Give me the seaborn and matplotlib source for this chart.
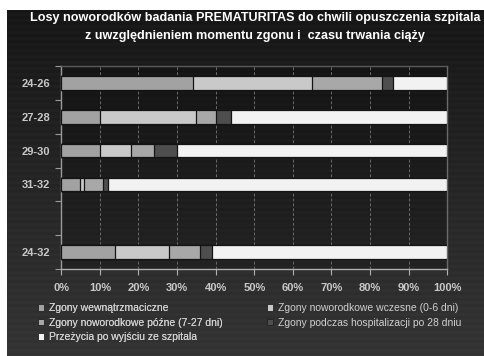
import numpy as np
import pandas as pd
import matplotlib
matplotlib.use("Agg")
import matplotlib.pyplot as plt
import seaborn as sns
from matplotlib.patches import Patch

sns.set_theme(style="dark")
plt.rcParams['font.family'] = ['Liberation Sans', 'DejaVu Sans']

categories = ["24-26", "27-28", "29-30", "31-32", "", "24-32"]
series_names = [
    "Zgony wewnątrzmaciczne",
    "Zgony noworodkowe wczesne (0-6 dni)",
    "Zgony noworodkowe późne (7-27 dni)",
    "Zgony podczas hospitalizacji po 28 dniu",
    "Przeżycia po wyjściu ze szpitala",
]
s1 = [34, 10, 10, 4.9, np.nan, 14]
s2 = [31, 25, 8, 0.9, np.nan, 14]
s3 = [18, 5, 6, 5.0, np.nan, 8]
s4 = [3, 4, 6, 1.2, np.nan, 3]
s5 = [14, 56, 70, 88, np.nan, 61]
colors = ["#a2a2a2", "#c9c9c9", "#a8a8a8", "#4e4e4e", "#f2f2f2"]
xticks = [0, 10, 20, 30, 40, 50, 60, 70, 80, 90, 100]
xticklabels = [f"{v}%" for v in xticks]

title = "Losy noworodków badania PREMATURITAS do chwili opuszczenia szpitala\nz uwzględnieniem momentu zgonu i  czasu trwania ciąży"

W, H = 485, 356
fig = plt.figure(figsize=(W / 100, H / 100), dpi=100)
fig.patch.set_facecolor("white")

# dark gradient background with faint stripes
bg = fig.add_axes([7 / W, 0, (W - 7) / W, (H - 10) / H])
rows = H - 10
grad = np.linspace(0.085, 0.2, rows)
stripes = np.where((np.arange(rows) // 3) % 2 == 0, 0.0, 0.012)
vals = (grad + stripes)[:, None] * np.ones((rows, 10))
bg.imshow(np.dstack([vals] * 3), aspect="auto", extent=[0, 1, 0, 1], origin="upper")
bg.set_axis_off()

ax = fig.add_axes([61.3 / W, 1 - 269 / H, (447.3 - 61.3) / W, (269 - 66) / H])
ax.set_facecolor((0, 0, 0, 0.22))

data = np.array([s1, s2, s3, s4, s5], dtype=float)
cum = np.cumsum(data, axis=0)
for i in range(4, -1, -1):
    df = pd.DataFrame({"cat": categories, "val": cum[i]})
    sns.barplot(data=df, x="val", y="cat", order=categories, orient="h",
                color=colors[i], saturation=1, width=0.4,
                edgecolor="#141414", linewidth=0.9, ax=ax, zorder=3)

ax.set_xlim(0, 100)
ax.set_ylim(5.5, -0.5)
ax.set_xlabel("")
ax.set_ylabel("")
ax.set_xticks(xticks)
ax.set_xticklabels(xticklabels)
ax.set_yticks(range(len(categories)))
ax.set_yticklabels(categories)
ax.set_yticks(np.arange(-0.5, 6, 1), minor=True)
ax.tick_params(axis="y", which="major", length=0, pad=8, labelsize=8, labelcolor="#c8c8c8")
ax.tick_params(axis="y", which="minor", length=4, width=0.8, color="#9a9a9a", direction="out", left=True)
ax.tick_params(axis="x", which="major", length=4, width=0.8, color="#b0b0b0", direction="out",
               bottom=True, pad=6, labelsize=8, labelcolor="#c8c8c8")
for lab in ax.get_xticklabels() + ax.get_yticklabels():
    lab.set_fontweight("bold")

ax.grid(False)
ax.xaxis.grid(True, color="#6a6a6a", linestyle=(0, (3, 2)), linewidth=0.7)
ax.set_axisbelow(True)
for side, col in [("left", "#9a9a9a"), ("bottom", "#b0b0b0"), ("top", "#5a5a5a"), ("right", "#6a6a6a")]:
    ax.spines[side].set_visible(True)
    ax.spines[side].set_color(col)
    ax.spines[side].set_linewidth(1.0)

fig.text(255 / W, 1 - 27 / H, title, ha="center", va="center", color="white",
         fontsize=9.1, fontweight="bold", linespacing=1.75)

def make_legend(idx, x_px):
    handles = [Patch(facecolor=colors[i], edgecolor="#222222", linewidth=0.6) for i in idx]
    labels = [series_names[i] for i in idx]
    return fig.legend(handles, labels, ncol=1, loc="upper left",
                      bbox_to_anchor=(x_px / W, 1 - 303 / H), frameon=False,
                      fontsize=7.5, labelcolor="#d0d0d0", handlelength=0.6, handleheight=0.6,
                      handletextpad=0.5, labelspacing=0.45, borderaxespad=0, borderpad=0)

leg1 = make_legend([0, 2, 4], 38)
leg2 = make_legend([1, 3], 267)
fig.add_artist(leg1)

fig.savefig("out.png", dpi=100)
